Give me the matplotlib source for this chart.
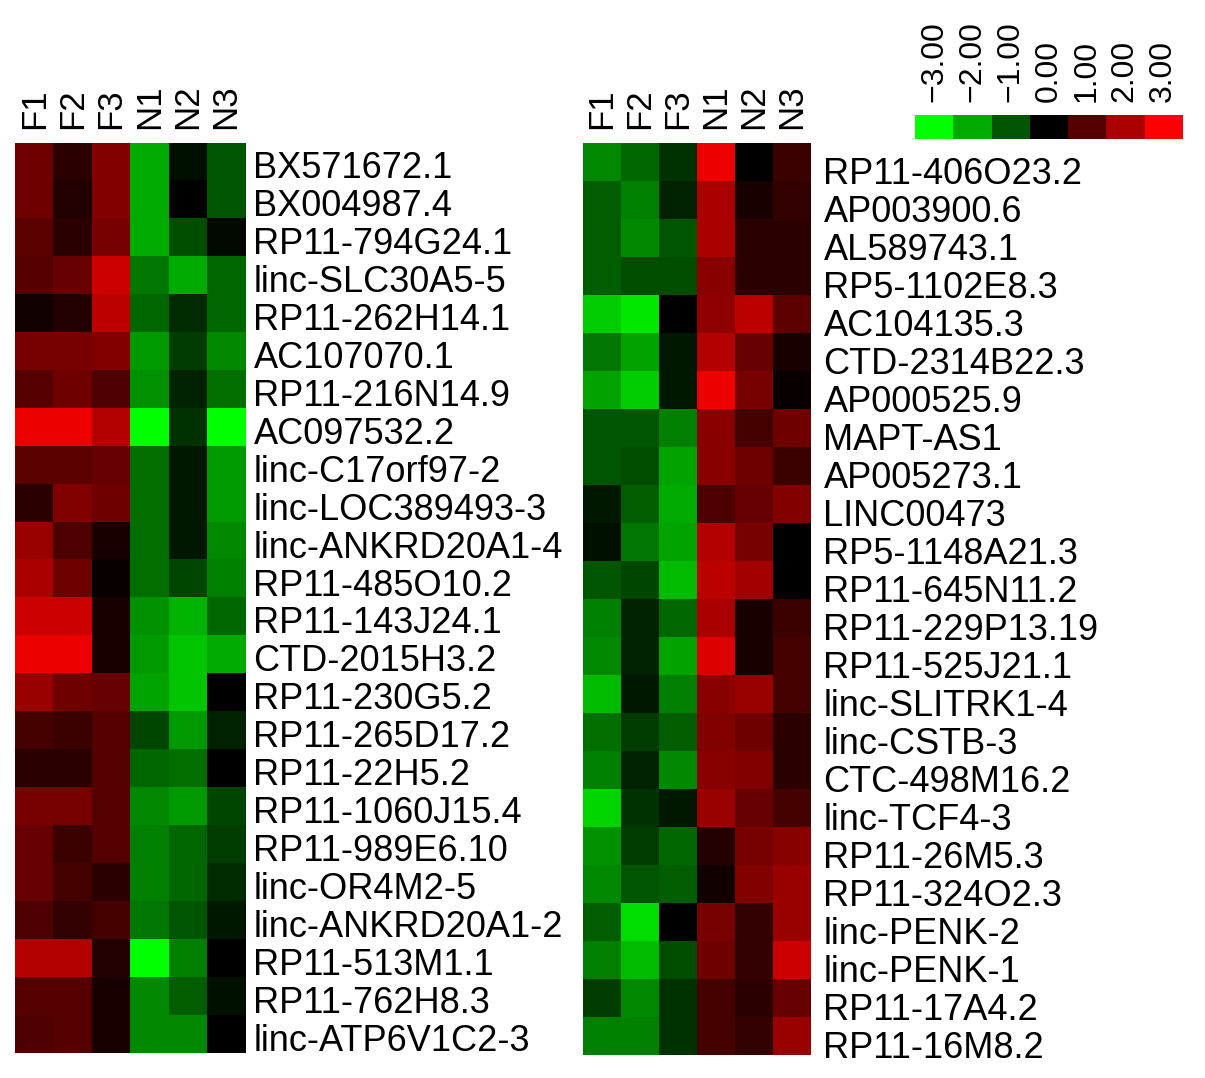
import numpy as np
import matplotlib
matplotlib.use("Agg")
import matplotlib.pyplot as plt
import matplotlib.transforms as mtransforms
from matplotlib.colors import LinearSegmentedColormap

plt.rcParams['font.family'] = ['Liberation Sans', 'DejaVu Sans']

samples = ['F1', 'F2', 'F3', 'N1', 'N2', 'N3']

# left panel: up in F, down in N
left_genes = ['BX571672.1', 'BX004987.4', 'RP11-794G24.1', 'linc-SLC30A5-5',
              'RP11-262H14.1', 'AC107070.1', 'RP11-216N14.9', 'AC097532.2',
              'linc-C17orf97-2', 'linc-LOC389493-3', 'linc-ANKRD20A1-4',
              'RP11-485O10.2', 'RP11-143J24.1', 'CTD-2015H3.2', 'RP11-230G5.2',
              'RP11-265D17.2', 'RP11-22H5.2', 'RP11-1060J15.4', 'RP11-989E6.10',
              'linc-OR4M2-5', 'linc-ANKRD20A1-2', 'RP11-513M1.1', 'RP11-762H8.3',
              'linc-ATP6V1C2-3']
left_vals = [
    [1.3, 0.5, 1.5, -2.0, -0.2, -1.0],
    [1.3, 0.4, 1.5, -2.0, 0.0, -1.0],
    [1.1, 0.5, 1.4, -2.0, -0.9, -0.1],
    [1.0, 1.2, 2.4, -1.4, -2.0, -1.2],
    [0.2, 0.4, 2.2, -1.2, -0.5, -1.2],
    [1.4, 1.4, 1.5, -1.8, -0.7, -1.6],
    [1.0, 1.3, 0.9, -1.7, -0.4, -1.3],
    [2.8, 2.8, 2.1, -3.0, -0.6, -3.0],
    [1.1, 1.1, 1.2, -1.3, -0.3, -1.8],
    [0.5, 1.5, 1.3, -1.3, -0.3, -1.8],
    [1.8, 0.9, 0.3, -1.3, -0.3, -1.6],
    [2.0, 1.3, 0.1, -1.3, -0.8, -1.5],
    [2.4, 2.4, 0.3, -1.7, -2.1, -1.2],
    [2.8, 2.8, 0.3, -1.8, -2.3, -2.0],
    [1.8, 1.3, 1.2, -1.9, -2.3, 0.0],
    [0.8, 0.7, 1.0, -0.8, -1.8, -0.4],
    [0.5, 0.5, 1.0, -1.2, -1.3, 0.0],
    [1.4, 1.4, 1.0, -1.6, -1.8, -0.8],
    [1.2, 0.7, 1.0, -1.5, -1.2, -0.7],
    [1.2, 0.8, 0.5, -1.5, -1.2, -0.5],
    [0.9, 0.6, 0.8, -1.4, -1.0, -0.3],
    [2.1, 2.1, 0.4, -3.0, -1.5, 0.0],
    [1.0, 1.0, 0.3, -1.6, -1.1, -0.2],
    [0.9, 1.0, 0.3, -1.6, -1.6, 0.0],
]

# right panel: down in F, up in N
right_genes = ['RP11-406O23.2', 'AP003900.6', 'AL589743.1', 'RP5-1102E8.3',
               'AC104135.3', 'CTD-2314B22.3', 'AP000525.9', 'MAPT-AS1',
               'AP005273.1', 'LINC00473', 'RP5-1148A21.3', 'RP11-645N11.2',
               'RP11-229P13.19', 'RP11-525J21.1', 'linc-SLITRK1-4', 'linc-CSTB-3',
               'CTC-498M16.2', 'linc-TCF4-3', 'RP11-26M5.3', 'RP11-324O2.3',
               'linc-PENK-2', 'linc-PENK-1', 'RP11-17A4.2', 'RP11-16M8.2']
right_vals = [
    [-1.6, -1.2, -0.6, 2.8, 0.0, 0.7],
    [-1.1, -1.5, -0.4, 2.0, 0.3, 0.6],
    [-1.1, -1.6, -1.0, 2.0, 0.5, 0.5],
    [-1.1, -0.9, -0.9, 1.6, 0.5, 0.5],
    [-2.4, -2.7, 0.0, 1.7, 2.2, 1.1],
    [-1.4, -1.9, -0.3, 2.1, 1.2, 0.3],
    [-1.9, -2.4, -0.3, 2.8, 1.4, 0.1],
    [-1.0, -1.0, -1.5, 1.6, 0.8, 1.3],
    [-1.0, -0.9, -1.9, 1.6, 1.3, 0.7],
    [-0.3, -1.1, -2.0, 0.9, 1.2, 1.5],
    [-0.2, -1.4, -1.9, 2.1, 1.4, 0.0],
    [-1.0, -0.8, -2.2, 2.2, 1.9, 0.0],
    [-1.5, -0.4, -1.2, 2.0, 0.3, 0.7],
    [-1.6, -0.4, -1.9, 2.6, 0.3, 0.8],
    [-2.2, -0.3, -1.5, 1.6, 1.8, 0.8],
    [-1.3, -0.7, -1.1, 1.5, 1.3, 0.5],
    [-1.5, -0.4, -1.6, 1.6, 1.5, 0.5],
    [-2.5, -0.6, -0.3, 1.8, 1.2, 0.8],
    [-1.7, -0.7, -1.2, 0.4, 1.4, 1.6],
    [-1.6, -1.0, -1.1, 0.2, 1.5, 1.8],
    [-1.1, -2.6, 0.0, 1.4, 0.6, 1.8],
    [-1.5, -2.2, -0.9, 1.3, 0.6, 2.4],
    [-0.7, -1.6, -0.6, 0.8, 0.5, 1.2],
    [-1.5, -1.5, -0.6, 0.8, 0.6, 1.8],
]

legend_vals = [-3, -2, -1, 0, 1, 2, 3]
legend_labels = ['\u22123.00', '\u22122.00', '\u22121.00', '0.00', '1.00', '2.00', '3.00']

cmap = LinearSegmentedColormap.from_list('gkr', [(0, 1, 0), (0, 0, 0), (1, 0, 0)])

fig = plt.figure(figsize=(12.05, 10.78), dpi=100)


def draw_heat(rect, vals, genes, ypad, ydrop):
    ax = fig.add_axes(rect)
    ax.imshow(np.array(vals), cmap=cmap, vmin=-3, vmax=3, aspect='auto',
              interpolation='nearest')
    ax.xaxis.tick_top()
    ax.yaxis.tick_right()
    ax.set_xticks(range(len(samples)))
    ax.set_xticklabels(samples, rotation=90, fontsize=25)
    ax.set_yticks(range(len(genes)))
    ax.set_yticklabels(genes, fontsize=26)
    ax.tick_params(axis='x', length=0, pad=10)
    ax.tick_params(axis='y', length=0, pad=ypad)
    # gene names sit a little below the row centres in the original
    shift = mtransforms.ScaledTranslation(0, -ydrop / 100, fig.dpi_scale_trans)
    for lab in ax.get_yticklabels():
        lab.set_transform(lab.get_transform() + shift)
    for s in ax.spines.values():
        s.set_visible(False)
    return ax


draw_heat([0.0125, 0.0232, 0.1909, 0.8442], left_vals, left_genes, 6, 3)
draw_heat([0.4838, 0.0213, 0.1892, 0.8460], right_vals, right_genes, 9, 8)

# colour key
cax = fig.add_axes([0.7593, 0.8711, 0.2216, 0.0223])
cax.imshow(np.array([legend_vals]), cmap=cmap, vmin=-3, vmax=3, aspect='auto')
cax.xaxis.tick_top()
cax.set_xticks(range(len(legend_vals)))
cax.set_xticklabels(legend_labels, rotation=90, fontsize=23)
cax.set_yticks([])
cax.tick_params(axis='x', length=0, pad=9)
for s in cax.spines.values():
    s.set_visible(False)

fig.savefig('out.png', dpi=100)
